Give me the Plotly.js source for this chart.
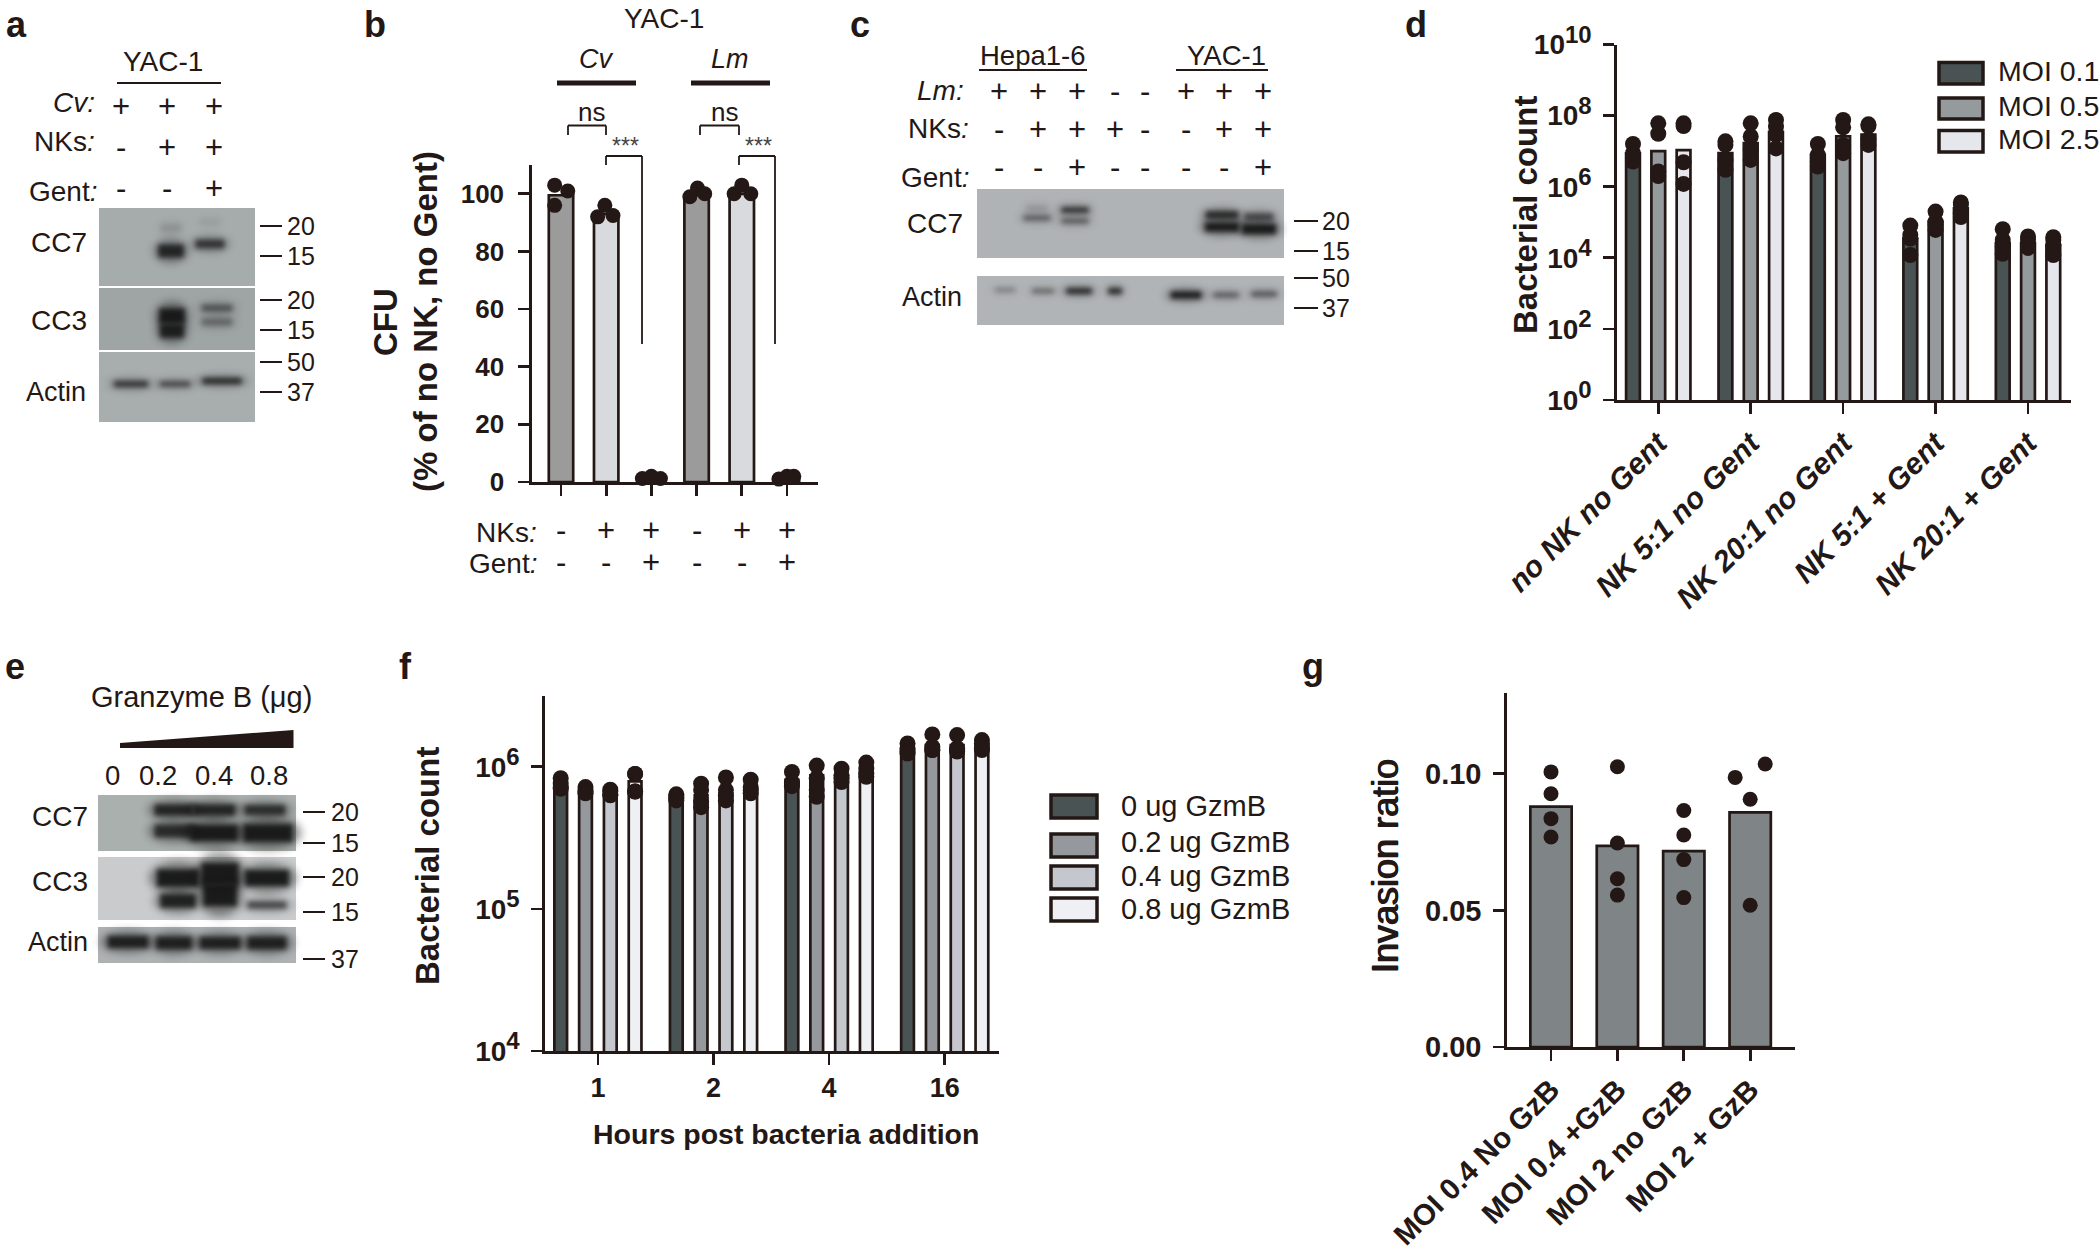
<!DOCTYPE html>
<html><head><meta charset="utf-8">
<script src="https://cdn.plot.ly/plotly-3.0.1.min.js"></script>
<style>html,body{margin:0;padding:0;background:#fff}</style></head>
<body><div id="chart" style="width:2100px;height:1252px"></div>
<script>
// ---------- Panel b ----------
const bNKs  = ['-','+','+','-','+','+'];
const bGent = ['-','-','+','-','-','+'];
const bBars = [99.5, 93, 1.5, 99.5, 100, 1.5];
const bDotsX = [[-0.14,0.15,-0.14],[0.97,0.81,1.15],[1.8,2,2.2],[2.85,3.02,3.18],[3.83,4,4.2],[4.82,5,5.15]];
const bDotsY = [[103,101,96],[96,92,92.5],[1.2,2,1.2],[99,102,100],[100,103,100],[1,2,2]];
// ---------- Panel d ----------
const dCats = ['no NK no Gent','NK 5:1 no Gent','NK 20:1 no Gent','NK 5:1 + Gent','NK 20:1 + Gent'];
const dMoi01 = [8.7e6, 8.9e6, 7.9e6, 3.5e4, 2.6e4];
const dMoi05 = [1.0e7, 1.7e7, 2.6e7, 1.05e5, 2.6e4];
const dMoi25 = [1.07e7, 3.5e7, 2.95e7, 2.45e5, 2.3e4];
const dMoi01Dots = [[1.6e7,8.8e6,6.3e6,5.1e6],[1.9e7,1.5e7,5.7e6,3.0e6],[1.6e7,7.9e6,5.1e6,3.7e6],[8.1e4,4.4e4,3.5e4,1.2e4],[6.4e4,3.2e4,2.1e4,1.3e4]];
const dMoi05Dots = [[6.1e7,3.1e7,2.7e6,2.0e6],[6.1e7,2.6e7,1.1e7,5.7e6],[7.6e7,4.7e7,1.5e7,8.8e6],[2.0e5,1.04e5,8.4e4,6.1e4],[4.0e4,3.2e4,2.3e4,1.9e4]];
const dMoi25Dots = [[6.1e7,5.1e7,4.9e6,1.2e6],[7.6e7,4.9e7,2.9e7,1.2e7],[5.7e7,5.1e7,2.1e7,1.5e7],[3.6e5,3.1e5,1.8e5,1.4e5],[3.8e4,3.2e4,2.3e4,1.2e4]];
const dLegend = ['MOI 0.1','MOI 0.5','MOI 2.5'];
// ---------- Panel f ----------
const fCats = ['1','2','4','16'];
const f0  = [7.2e5, 6.15e5, 8.1e5, 1.31e6];
const f02 = [6.5e5, 6.3e5, 8.7e5, 1.42e6];
const f04 = [6.3e5, 6.5e5, 8.7e5, 1.42e6];
const f08 = [7.9e5, 7.0e5, 9.2e5, 1.42e6];
const f0Dots  = [[8.3e5,7.6e5,7.2e5,7.0e5],[6.4e5,6.15e5,6.0e5,5.8e5],[9.2e5,7.8e5,7.6e5,7.3e5],[1.46e6,1.35e6,1.28e6,1.24e6]];
const f02Dots = [[7.2e5,6.85e5,6.7e5,6.5e5],[7.6e5,6.85e5,5.7e5,5.2e5],[1.02e6,8.3e5,6.85e5,6.15e5],[1.69e6,1.38e6,1.31e6,1.31e6]];
const f04Dots = [[6.9e5,6.7e5,6.4e5,6.3e5],[8.4e5,6.85e5,6.3e5,5.8e5],[9.7e5,8.7e5,8.3e5,7.8e5],[1.67e6,1.35e6,1.31e6,1.28e6]];
const f08Dots = [[8.9e5,8.9e5,6.7e5,6.7e5],[8.1e5,7.2e5,6.85e5,6.5e5],[1.07e6,9.7e5,9.0e5,8.5e5],[1.54e6,1.46e6,1.35e6,1.31e6]];
const fLegend = ['0 ug GzmB','0.2 ug GzmB','0.4 ug GzmB','0.8 ug GzmB'];
// ---------- Panel g ----------
const gCats = ['MOI 0.4 No GzB','MOI 0.4 +GzB','MOI 2 no GzB','MOI 2 + GzB'];
const gBars = [0.088, 0.0736, 0.0717, 0.0859];
const gDotsX = [[0,0,0,0],[1,1,1,1],[2,2,2,2],[2.774,3.226,3,3]];
const gDotsY = [[0.1007,0.0927,0.0836,0.0769],[0.1026,0.0747,0.0616,0.0556],[0.0866,0.0776,0.0686,0.0547],[0.0987,0.1036,0.0907,0.0519]];
// ---------- Western-blot sign rows ----------
const aCv = ['+','+','+'], aNKs = ['-','+','+'], aGent = ['-','-','+'];
const cLm = ['+','+','+','-','-','+','+','+'];
const cNKs = ['-','+','+','+','-','-','+','+'];
const cGent = ['-','-','+','-','-','-','-','+'];
const eDoses = ['0','0.2','0.4','0.8'];

// ---------- helpers ----------
const W = 2100, H = 1252, INK = '#231815', FONT = '"Liberation Sans", Arial, sans-serif';
const PX = x => x / W, PY = y => 1 - y / H;
const annotations = [], shapes = [], traces = [];
function txt(text, x, y, size, o) {
  o = o || {};
  const font = {family: FONT, size, color: o.color || INK, weight: o.bold ? 'bold' : 'normal', style: o.italic ? 'italic' : 'normal'};
  if (o.shadow) font.shadow = o.shadow;
  annotations.push({text, x: o.xref ? x : PX(x), y: PY(y), xref: o.xref || 'paper', yref: 'paper',
    showarrow: false, xanchor: o.anchor || 'center', yanchor: 'middle', textangle: o.angle || 0, font});
}
function line(x0, y0, x1, y1, width, color) {
  shapes.push({type: 'line', xref: 'paper', yref: 'paper', x0: PX(x0), y0: PY(y0), x1: PX(x1), y1: PY(y1),
    line: {color: color || INK, width: width || 2}});
}
function rect(x0, y0, x1, y1, fill) {
  shapes.push({type: 'rect', xref: 'paper', yref: 'paper', layer: 'below', x0: PX(x0), y0: PY(y0), x1: PX(x1), y1: PY(y1),
    fillcolor: fill, line: {width: 0}});
}
const CORE = '#141414', HALO = '#161616';
function band(cx, cy, w, h, s) {
  shapes.push({type: 'circle', xref: 'paper', yref: 'paper', layer: 'below',
    x0: PX(cx - w * 0.58), x1: PX(cx + w * 0.58), y0: PY(cy - h * 0.8), y1: PY(cy + h * 0.8),
    fillcolor: HALO, opacity: 0.45 * s, line: {width: 0}});
  shapes.push({type: 'rect', xref: 'paper', yref: 'paper', layer: 'below',
    x0: PX(cx - w * 0.42), x1: PX(cx + w * 0.42), y0: PY(cy - h * 0.42), y1: PY(cy + h * 0.42),
    fillcolor: CORE, opacity: 0.92 * s, line: {width: 0}});
}
function blot(x0, y0, x1, y1, fill, bands) {
  rect(x0, y0, x1, y1, fill);
  bands.forEach(b => band(...b));
}
function mw(x0, x1, xl, rows) {
  rows.forEach(r => { line(x0, r[1], x1, r[1], 2); txt(r[0], xl, r[1], 25); });
}
function pow10(n) { return '10<sup><span style="font-size:24px">' + n + '</span></sup>'; }
const tickCommon = {ticks: 'outside', ticklen: 11, tickwidth: 2.7, tickcolor: INK, linecolor: INK, linewidth: 2.7,
  showline: true, showgrid: false, zeroline: false};
function axisX(px0, px1, range, vals, text, font, extra) {
  return Object.assign({domain: [PX(px0), PX(px1)], range, tickmode: 'array', tickvals: vals, ticktext: text,
    tickfont: font, fixedrange: true}, tickCommon, extra || {});
}
function axisY(pyBottom, pyTop, type, range, vals, text, size, standoff, extra) {
  return Object.assign({domain: [PY(pyBottom), PY(pyTop)], type, range, tickmode: 'array', tickvals: vals, ticktext: text,
    tickfont: {family: FONT, size, color: INK, weight: 'bold'}, ticklabelstandoff: standoff, fixedrange: true}, tickCommon, extra || {});
}
function bars(xa, ya, name, x, y, width, color) {
  traces.push({type: 'bar', xaxis: xa, yaxis: ya, name, x, y, width, showlegend: false,
    marker: {color, line: {color: INK, width: 2.7}}, hoverinfo: 'skip'});
}
function dots(xa, ya, x, y, size) {
  traces.push({type: 'scatter', mode: 'markers', xaxis: xa, yaxis: ya, x, y, showlegend: false, cliponaxis: false,
    marker: {color: INK, size: size || 16, line: {width: 0}}, hoverinfo: 'skip'});
}
function groupSeries(xa, ya, names, values, dotSets, colors, pitch, width) {
  const n = names.length;
  names.forEach((nm, k) => {
    const off = (k - (n - 1) / 2) * pitch;
    const xs = values[k].map((_, i) => i + off);
    bars(xa, ya, nm, xs, values[k], values[k].map(() => width), colors[k]);
    dots(xa, ya, dotSets[k].flatMap((g, i) => g.map(() => i + off)), dotSets[k].flat());
  });
}
function swatches(names, colors, x0, x1, ys, xt, ytxt, size) {
  names.forEach((nm, k) => {
    shapes.push({type: 'rect', xref: 'paper', yref: 'paper', x0: PX(x0), x1: PX(x1), y0: PY(ys[k][0]), y1: PY(ys[k][1]),
      fillcolor: colors[k], line: {color: INK, width: 3.5}});
    txt(nm, xt, ytxt[k], size, {anchor: 'left'});
  });
}

// ---------- panel letters ----------
[['a',16,24],['b',375,24],['c',860,24],['d',1416,24],['e',15,667],['f',405,667],['g',1313,667]]
  .forEach(l => txt(l[0], l[1], l[2], 36, {bold: true}));

// ---------- Panel a (blots) ----------
txt('YAC-1', 163, 61, 28); line(117, 83, 221, 83, 2.2);
txt('<i>Cv:</i>', 97, 103, 28, {anchor: 'right'}); txt('NKs<i>:</i>', 97, 142, 28, {anchor: 'right'}); txt('Gent<i>:</i>', 99, 191, 28, {anchor: 'right'});
const aX = [121, 167, 214];
aCv.forEach((s, i) => txt(s, aX[i], 106, 31));
aNKs.forEach((s, i) => txt(s, aX[i], 147, 31));
aGent.forEach((s, i) => txt(s, aX[i], 188, 31));
blot(99, 208, 255, 286, '#a6abac', [[171,228,24,10,0.12],[171,251,30,15,0.9],[210,244,34,10,0.75],[210,222,24,8,0.06]]);
blot(99, 288, 255, 350, '#9fa4a5', [[172,316,30,18,1],[172,331,28,16,0.95],[217,308,36,8,0.5],[217,322,36,9,0.35]]);
blot(99, 352, 255, 422, '#a8adad', [[131,384,40,7,0.75],[175,384,36,6,0.65],[222,381,46,7,0.85]]);
txt('CC7', 59, 242, 28); txt('CC3', 59, 320, 28); txt('Actin', 56, 392, 27);
mw(260, 282, 301, [['20',226],['15',256],['20',300],['15',330],['50',362],['37',392]]);

// ---------- Panel b ----------
txt('YAC-1', 664, 18, 28);
txt('Cv', 596, 59, 27, {italic: true}); txt('Lm', 730, 59, 27, {italic: true});
line(557, 83, 636, 83, 5); line(691, 83, 770, 83, 5);
[[568,606,642,591,625],[700,739,775,724,758]].forEach(g => {
  txt('ns', g[3], 112, 26);
  line(g[0], 125.5, g[1], 125.5, 1.8); line(g[0], 125.5, g[0], 135, 1.8); line(g[1], 125.5, g[1], 135, 1.8);
  txt('***', g[4], 146, 23, {color: '#444'});
  line(g[1], 156, g[2], 156, 1.8); line(g[1], 156, g[1], 165, 1.8); line(g[2], 156, g[2], 344, 1.8);
});
txt('<b>CFU</b>', 386, 322, 33, {angle: -90}); txt('<b>(% of no NK, no Gent)</b>', 426, 322, 33, {angle: -90});
bars('x', 'y', 'CFU', [0,1,2,3,4,5], bBars, bBars.map(() => 0.54), ['#9b9b9b','#d8dade','#9b9b9b','#9b9b9b','#d8dade','#d8dade']);
dots('x', 'y', bDotsX.flat(), bDotsY.flat(), 15);
txt('NKs<i>:</i>', 539, 532, 28, {anchor: 'right'}); txt('Gent<i>:</i>', 539, 563, 28, {anchor: 'right'});
bNKs.forEach((s, i) => txt(s, i, 530, 31, {xref: 'x'}));
bGent.forEach((s, i) => txt(s, i, 562, 31, {xref: 'x'}));

// ---------- Panel c (blots) ----------
txt('Hepa1-6', 1033, 55, 27.5); line(979, 70, 1087, 70, 2.2);
txt('YAC-1', 1226, 55, 27.5); line(1176, 70, 1268, 70, 2.2);
txt('<i>Lm:</i>', 966, 91, 28, {anchor: 'right'}); txt('NKs<i>:</i>', 971, 128, 28, {anchor: 'right'}); txt('Gent<i>:</i>', 971, 177, 28, {anchor: 'right'});
const cX = [999, 1038, 1077, 1115, 1145, 1186, 1224, 1263];
cLm.forEach((s, i) => txt(s, cX[i], 92, 31));
cNKs.forEach((s, i) => txt(s, cX[i], 130, 31));
cGent.forEach((s, i) => txt(s, cX[i], 168, 31));
blot(977, 189, 1284, 258, '#b0b3b5', [[1037,208,26,8,0.12],[1037,218,32,6,0.5],[1075,210,32,6,0.85],[1075,221,32,6,0.5],
  [1222,215,38,9,0.85],[1222,227,40,11,1],[1259,217,34,9,0.6],[1259,229,40,12,1]]);
blot(977, 276, 1284, 325, '#b1b4b6', [[1005,290,24,4,0.35],[1043,291,26,4,0.55],[1079,291,30,6,0.95],[1115,291,16,6,0.95],
  [1186,295,36,8,1],[1226,295,30,6,0.5],[1264,294,30,6,0.55]]);
txt('CC7', 935, 223, 28); txt('Actin', 932, 297, 27);
mw(1294, 1318, 1336, [['20',221],['15',251],['50',278],['37',308]]);

// ---------- Panel d ----------
const dColors = ['#4a5354', '#959a9d', '#e6e7ec'];
groupSeries('x2', 'y2', dLegend, [dMoi01, dMoi05, dMoi25], [dMoi01Dots, dMoi05Dots, dMoi25Dots], dColors, 0.2735, 0.149);
txt('<b>Bacterial count</b>', 1525, 215, 33, {angle: -90});
swatches(dLegend, dColors, 1939, 1983, [[62.5,84],[98,119],[130.5,152]], 1996, [71,106,139], 28.5);

// ---------- Panel e (blots) ----------
txt('Granzyme B (μg)', 201, 697, 29);
shapes.push({type: 'path', xref: 'paper', yref: 'paper', fillcolor: INK, line: {width: 0},
  path: `M${PX(120)},${PY(743)} L${PX(293.5)},${PY(730)} L${PX(293.5)},${PY(748)} L${PX(120)},${PY(748)} Z`});
const eX = [112, 157.5, 214, 268.7];
eDoses.forEach((s, i) => txt(s, eX[i], 775, 27.5));
blot(98, 795, 296, 851, '#aab0ae', [[174,810,46,13,0.9],[214,810,50,13,0.9],[265,810,48,12,0.8],
  [174,831,46,15,0.85],[214,833,56,19,1],[268,833,58,21,1]]);
blot(98, 857, 296, 920, '#c9cbcc', [[178,878,50,21,1],[178,901,42,16,0.95],[220,874,44,27,1],[220,895,40,27,1],[267,878,52,19,1],[267,905,46,9,0.65]]);
blot(98, 927, 296, 963, '#aeb2b2', [[128,942,48,14,0.95],[174,943,42,15,0.95],[220,943,48,14,0.95],[267,943,46,15,0.95]]);
txt('CC7', 60, 816, 28); txt('CC3', 60, 881, 28); txt('Actin', 58, 942, 27);
mw(303, 325, 345, [['20',812],['15',843],['20',877],['15',912],['37',959]]);

// ---------- Panel f ----------
const fColors = ['#4a5354', '#95999e', '#c4c8ce', '#eef0f4'];
groupSeries('x3', 'y3', fLegend, [f0, f02, f04, f08], [f0Dots, f02Dots, f04Dots, f08Dots], fColors, 0.2145, 0.11);
txt('<b>Bacterial count</b>', 427, 866, 33, {angle: -90});
txt('<b>Hours post bacteria addition</b>', 786, 1134, 28.5);
swatches(fLegend, fColors, 1051, 1097, [[795,818],[834,857],[866,889],[898,921]], 1119, [806,842,876,908.5], 29);

// ---------- Panel g ----------
bars('x4', 'y4', 'Invasion ratio', [0,1,2,3], gBars, gBars.map(() => 0.622), '#7f8487');
dots('x4', 'y4', gDotsX.flat(), gDotsY.flat(), 15);
txt('Invasion ratio', 1385, 866, 36, {angle: -90, shadow: '0.7px 0 0 #231815, -0.7px 0 0 #231815'});

const layout = {
  width: W, height: H, margin: {l: 0, r: 0, t: 0, b: 0}, paper_bgcolor: '#fff', plot_bgcolor: 'rgba(0,0,0,0)',
  barmode: 'overlay', showlegend: false, font: {family: FONT, color: INK}, annotations, shapes,
  xaxis: axisX(532, 818, [-0.6416, 5.686], [0,1,2,3,4,5], undefined, {size: 12}, {showticklabels: false}),
  yaxis: axisY(482, 165, 'linear', [0, 110], [0,20,40,60,80,100], ['0','20','40','60','80','100'], 26, 9),
  xaxis2: axisX(1617, 2071, [-0.4465, 4.465], [0,1,2,3,4], dCats, {family: FONT, size: 30, color: INK, weight: 'bold', style: 'italic'}, {tickangle: -45, anchor: 'y2'}),
  yaxis2: axisY(400, 44.6, 'log', [0, 10], [1,1e2,1e4,1e6,1e8,1e10], [0,2,4,6,8,10].map(pow10), 28, 6, {anchor: 'x2'}),
  xaxis3: axisX(545, 998.6, [-0.4576, 3.466], [0,1,2,3], fCats, {family: FONT, size: 27, color: INK, weight: 'bold'}, {tickangle: 0, anchor: 'y3'}),
  yaxis3: axisY(1051, 696, 'log', [4, 6.498], [1e4,1e5,1e6], [4,5,6].map(pow10), 28, 6, {anchor: 'x3'}),
  xaxis4: axisX(1507, 1795, [-0.6627, 3.675], [0,1,2,3], gCats, {family: FONT, size: 29.5, color: INK, weight: 'bold'}, {tickangle: -45, anchor: 'y4'}),
  yaxis4: axisY(1047, 692.7, 'linear', [0, 0.1297], [0,0.05,0.1], ['0.00','0.05','0.10'], 29, 6, {anchor: 'x4'})
};
Plotly.newPlot('chart', traces, layout, {displayModeBar: false, staticPlot: true}).then(() => {
  // soften the blot bands the way film exposure does
  document.querySelectorAll('.shapelayer path').forEach(p => {
    const fill = p.style.fill;
    if (fill === 'rgb(20, 20, 20)') p.style.filter = 'blur(2.8px)';
    if (fill === 'rgb(22, 22, 22)') p.style.filter = 'blur(4.5px)';
  });
});
</script></body></html>
